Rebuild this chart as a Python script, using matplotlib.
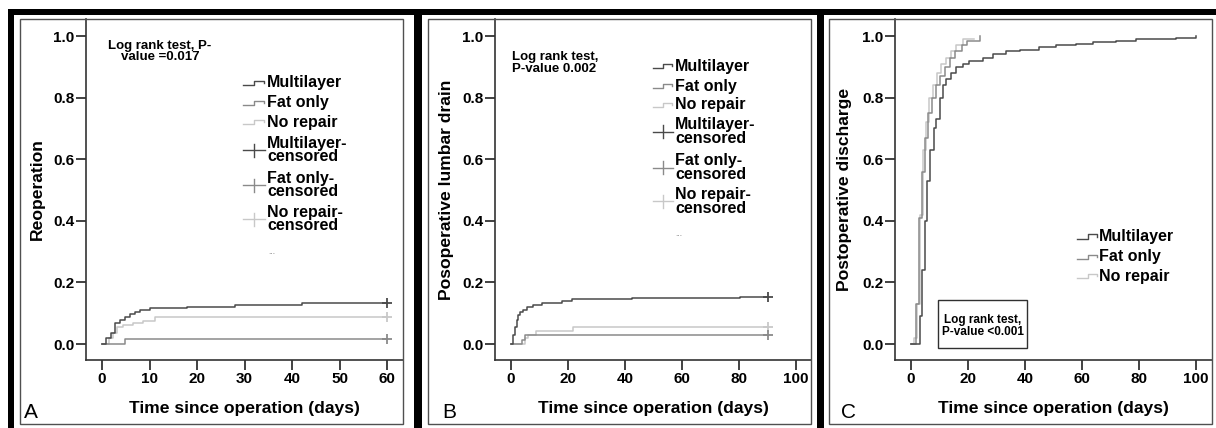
import matplotlib
matplotlib.use("Agg")
import matplotlib.pyplot as plt
from matplotlib.lines import Line2D
from matplotlib.patches import Rectangle

plt.rcParams['font.family'] = ['Liberation Sans', 'DejaVu Sans']

W, H = 1216, 428

# ---------------- data ----------------
group_names = ["Multilayer", "Fat only", "No repair"]

# Panel A - Reoperation
a_multi_t = [0, 0.8, 1.8, 2.7, 3.8, 4.8, 5.9, 6.9, 8.0, 10.1, 17.8, 28, 42, 60]
a_multi_y = [0, 0.018, 0.037, 0.067, 0.078, 0.088, 0.097, 0.105, 0.110, 0.116, 0.121, 0.126, 0.132, 0.132]
a_fat_t = [0, 4.8, 60]
a_fat_y = [0, 0.016, 0.016]
a_none_t = [0, 1.5, 2.4, 3.1, 4.5, 6.6, 8.7, 11.2, 60]
a_none_y = [0, 0.018, 0.037, 0.054, 0.062, 0.069, 0.075, 0.087, 0.087]

# Panel B - Postoperative lumbar drain
b_multi_t = [0, 0.8, 1.4, 2.0, 2.6, 3.2, 4.1, 5.5, 7.8, 10.8, 17.8, 21.3, 42.3, 80.4, 90]
b_multi_y = [0, 0.029, 0.056, 0.078, 0.094, 0.103, 0.110, 0.119, 0.128, 0.134, 0.140, 0.145, 0.149, 0.154, 0.154]
b_fat_t = [0, 3.7, 4.9, 90]
b_fat_y = [0, 0.013, 0.029, 0.029]
b_none_t = [0, 4.9, 6.0, 8.8, 21.9, 90]
b_none_y = [0, 0.020, 0.030, 0.043, 0.054, 0.054]

# Panel C - Postoperative discharge
c_multi_t = [0, 3.2, 4.0, 4.9, 5.7, 6.8, 8.0, 8.9, 10.1, 11.2, 12.4, 14.2, 15.9, 18.2, 20.5,
             25.3, 28.8, 33.4, 38.1, 45, 51, 58, 64, 72, 79, 93, 100]
c_multi_y = [0, 0.09, 0.24, 0.40, 0.53, 0.63, 0.70, 0.73, 0.80, 0.84, 0.86, 0.88, 0.90, 0.91, 0.92,
             0.93, 0.94, 0.95, 0.955, 0.965, 0.97, 0.975, 0.98, 0.985, 0.99, 0.995, 1.0]
c_fat_t = [0, 1.9, 2.8, 4.0, 4.9, 6.0, 7.2, 8.7, 10.1, 11.9, 13.7, 15.4, 17.8, 19.5, 24.2]
c_fat_y = [0, 0.13, 0.41, 0.56, 0.67, 0.75, 0.80, 0.84, 0.87, 0.90, 0.93, 0.95, 0.97, 0.985, 1.0]
c_none_t = [0, 1.2, 2.2, 3.2, 4.3, 5.3, 6.4, 7.8, 9.0, 10.7, 12.4, 14.2, 15.9, 18.2, 22.0]
c_none_y = [0, 0.02, 0.13, 0.42, 0.63, 0.72, 0.80, 0.84, 0.88, 0.91, 0.93, 0.95, 0.97, 0.99, 0.99]

y_ticks = [0.0, 0.2, 0.4, 0.6, 0.8, 1.0]
a_xticks = [0, 10, 20, 30, 40, 50, 60]
bc_xticks = [0, 20, 40, 60, 80, 100]

ylabels = ["Reoperation", "Posoperative lumbar drain", "Postoperative discharge"]
xlabel = "Time since operation (days)"
panel_letters = ["A", "B", "C"]

colors = ["#4a4a4a", "#8a8a8a", "#c8c8c8"]

# ---------------- helpers ----------------
fig = plt.figure(figsize=(W / 100, H / 100), dpi=100)
fig.patch.set_facecolor("white")


def fx(x):
    return x / W


def fy(y):
    return 1 - y / H


def frect(x0, y0, x1, y1, **kw):
    fig.add_artist(Rectangle((fx(x0), fy(y1)), (x1 - x0) / W, (y1 - y0) / H,
                             transform=fig.transFigure, **kw))


def fline(xs, ys, **kw):
    fig.add_artist(Line2D([fx(v) for v in xs], [fy(v) for v in ys],
                          transform=fig.transFigure, **kw))


# black frame bars
frect(8, 9, W, 15, facecolor="black", edgecolor="none")
frect(8, 9, 14, H, facecolor="black", edgecolor="none")
frect(414, 9, 422, H, facecolor="black", edgecolor="none")
frect(817, 9, 824, H, facecolor="black", edgecolor="none")

# thin panel boxes
for (x0, x1) in [(20, 403), (428, 811), (829, 1212)]:
    frect(x0, 19, x1, 424, facecolor="none", edgecolor="#505050", linewidth=1.0)

# axes geometry (pixel): left, right, x-zero px, px per day
geoms = [
    dict(left=86, right=403, x0=102, sc=4.75),
    dict(left=495, right=811, x0=511, sc=2.85),
    dict(left=895, right=1212, x0=911, sc=2.85),
]
top, bottom, y0px, ysc = 19, 360, 344, 308.0

series = [
    [(a_multi_t, a_multi_y), (a_fat_t, a_fat_y), (a_none_t, a_none_y)],
    [(b_multi_t, b_multi_y), (b_fat_t, b_fat_y), (b_none_t, b_none_y)],
    [(c_multi_t, c_multi_y), (c_fat_t, c_fat_y), (c_none_t, c_none_y)],
]
xticks_list = [a_xticks, bc_xticks, bc_xticks]
censored = [True, True, False]

axes = []
for i, g in enumerate(geoms):
    ax = fig.add_axes([fx(g['left']), fy(bottom), (g['right'] - g['left']) / W, (bottom - top) / H])
    ax.set_facecolor("none")
    ax.set_xlim((g['left'] - g['x0']) / g['sc'], (g['right'] - g['x0']) / g['sc'])
    ax.set_ylim((y0px - bottom) / ysc, (y0px - top) / ysc)
    for s in ["top", "right"]:
        ax.spines[s].set_visible(False)
    for s in ["left", "bottom"]:
        ax.spines[s].set_color("#333333")
        ax.spines[s].set_linewidth(1.2)
    ax.set_yticks(y_ticks)
    ax.set_yticklabels([f"{v:.1f}" for v in y_ticks])
    ax.set_xticks(xticks_list[i])
    ax.tick_params(axis="both", direction="out", length=7, width=1.3, color="#333333",
                   labelsize=11, pad=1.5)
    for lab in ax.get_xticklabels() + ax.get_yticklabels():
        lab.set_fontweight("bold")
    # draw curves (light first so dark on top)
    for j in [2, 1, 0]:
        t, y = series[i][j]
        ax.step(t, y, where="post", color=colors[j], linewidth=1.1, zorder=3 + (2 - j))
        if censored[i]:
            ax.plot([t[-1]], [y[-1]], marker="+", markersize=7, mew=1.3,
                    color=colors[j], linestyle="none", zorder=6)
    axes.append(ax)
    fig.text(fx([37, 447, 845][i]), fy((top + bottom) / 2), ylabels[i], rotation=90,
             ha="center", va="center", fontsize=12.6, fontweight="bold")
    fig.text(fx((g['left'] + g['right']) / 2), fy(408), xlabel,
             ha="center", va="center", fontsize=12.6, fontweight="bold")
    fig.text(fx([24, 442, 841][i]), fy(418), panel_letters[i], ha="left", va="baseline",
             fontsize=15)


# legend drawing
def step_icon(x0, x1, yc, color):
    xm = (x0 + x1) / 2
    fline([x0, xm, xm, x1 - 1, x1 - 1], [yc + 2, yc + 2, yc - 2.5, yc - 2.5, yc - 0.5],
          color=color, linewidth=1.0)


def cens_icon(x0, x1, yc, color):
    xm = (x0 + x1) / 2
    fline([x0, x1], [yc, yc], color=color, linewidth=1.0)
    fline([xm, xm], [yc - 6.5, yc + 6.5], color=color, linewidth=1.0)


def legend(icx0, icx1, tx, rows, dots=None):
    for (label, yc, kind, col) in rows:
        if kind == "step":
            step_icon(icx0, icx1, yc, col)
        else:
            cens_icon(icx0, icx1, yc, col)
        fig.text(fx(tx), fy(yc), label, ha="left", va="center", fontsize=11.5,
                 fontweight="bold", linespacing=0.88)
    if dots is not None:
        fig.text(fx(dots[0]), fy(dots[1]), "...", ha="left", va="center", fontsize=6,
                 color="#777777")


legend(243, 265, 267, [
    (group_names[0], 83, "step", colors[0]),
    (group_names[1], 103, "step", colors[1]),
    (group_names[2], 122, "step", colors[2]),
    (group_names[0] + "-\ncensored", 150, "cens", colors[0]),
    (group_names[1] + "-\ncensored", 185, "cens", colors[1]),
    (group_names[2] + "-\ncensored", 219, "cens", colors[2]),
], dots=(268, 253))

legend(653, 673, 675, [
    (group_names[0], 66, "step", colors[0]),
    (group_names[1], 86, "step", colors[1]),
    (group_names[2], 105, "step", colors[2]),
    (group_names[0] + "-\ncensored", 131.5, "cens", colors[0]),
    (group_names[1] + "-\ncensored", 167.5, "cens", colors[1]),
    (group_names[2] + "-\ncensored", 201.5, "cens", colors[2]),
], dots=(675, 235))

legend(1077, 1098, 1099, [
    (group_names[0], 237, "step", colors[0]),
    (group_names[1], 257, "step", colors[1]),
    (group_names[2], 276, "step", colors[2]),
])

# log rank annotations
fig.text(fx(160), fy(51.5), "Log rank test, P-\nvalue =0.017", ha="center", va="center",
         fontsize=9.5, fontweight="bold", linespacing=0.95)
fig.text(fx(512), fy(63), "Log rank test,\nP-value 0.002", ha="left", va="center",
         fontsize=9.5, fontweight="bold", linespacing=0.95)
frect(938, 300, 1027, 348, facecolor="white", edgecolor="#303030", linewidth=1.0)
fig.text(fx(982.5), fy(326), "Log rank test,\nP-value <0.001", ha="center", va="center",
         fontsize=8.5, fontweight="bold", linespacing=0.95)

fig.savefig("out.png", dpi=100, facecolor="white")
